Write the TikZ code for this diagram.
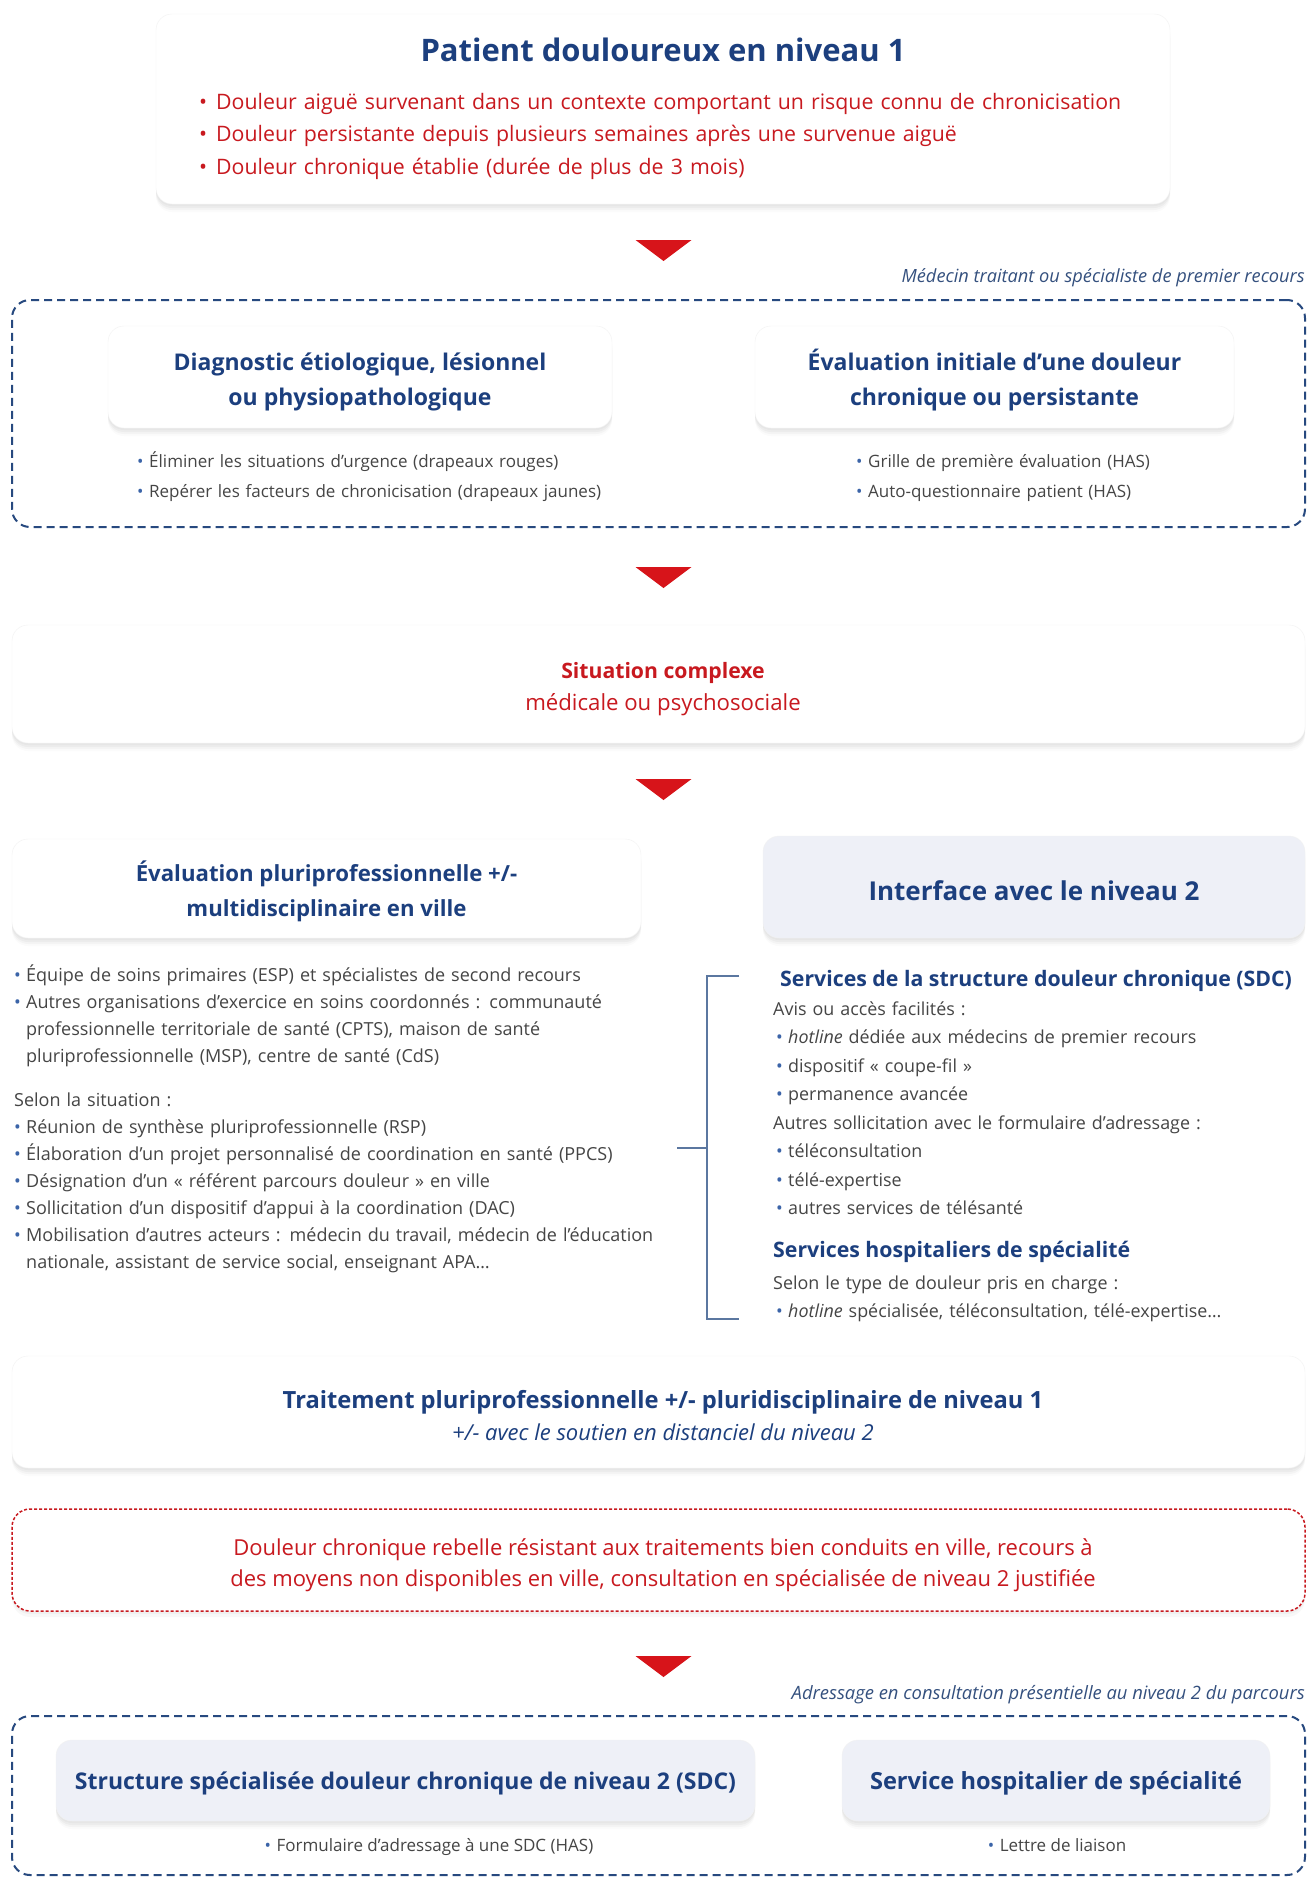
\documentclass[tikz,border=0pt]{standalone}
\usepackage{fontspec}
\setmainfont{Open Sans}
\usetikzlibrary{positioning, shadows, calc}

\definecolor{navy}{HTML}{1C3F7E}
\definecolor{alertred}{HTML}{C8191F}
\definecolor{arrowred}{HTML}{D7141A}
\definecolor{dashblue}{HTML}{27497F}
\definecolor{bodygray}{HTML}{454545}
\definecolor{dotblue}{HTML}{3B64A8}
\definecolor{paleblue}{HTML}{EEF0F7}
\definecolor{notegray}{HTML}{34507E}
\definecolor{bracketblue}{HTML}{5B77A0}

\newcommand{\bul}{\makebox[12pt][l]{\textcolor{dotblue}{\textbullet}}}
\newcommand{\rbul}{\makebox[17pt][l]{\textbullet}}
\newcommand{\ind}{\hspace*{12pt}}

\tikzset{
  card/.style={fill=white, draw=black!5, rounded corners=16pt, inner sep=0,
    drop shadow={shadow xshift=0pt, shadow yshift=-2pt, opacity=0.06},
    drop shadow={shadow xshift=0pt, shadow yshift=-4pt, opacity=0.06},
    drop shadow={shadow xshift=0pt, shadow yshift=-6pt, opacity=0.05},
    drop shadow={shadow xshift=0pt, shadow yshift=-8pt, opacity=0.03}},
  dashbox/.style={draw=dashblue, line width=2pt, dash pattern=on 8pt off 5pt, rounded corners=18pt, inner sep=0},
  reddash/.style={fill=white, draw=alertred, line width=1.5pt, dash pattern=on 3pt off 2pt, rounded corners=18pt, inner sep=0,
    drop shadow={shadow xshift=0pt, shadow yshift=-3pt, opacity=0.06},
    drop shadow={shadow xshift=0pt, shadow yshift=-6pt, opacity=0.05}},
  bigtitle/.style={font=\bfseries\fontsize{31}{36}\selectfont, text=navy, inner sep=0},
  cardtitle/.style={font=\bfseries\fontsize{23}{35}\selectfont, text=navy, align=center, inner sep=0},
  subhead/.style={font=\bfseries\fontsize{21.3}{25}\selectfont, text=navy, inner sep=0},
  redlist/.style={font=\fontsize{21.3}{32.5}\selectfont, text=alertred, align=left, inner sep=0},
  redtext/.style={font=\fontsize{22}{31}\selectfont, text=alertred, inner sep=0},
  smalllist/.style={font=\fontsize{17}{30}\selectfont, text=bodygray, align=left, inner sep=0},
  body/.style={font=\fontsize{18}{27}\selectfont, text=bodygray, align=left, inner sep=0},
  note/.style={font=\itshape\fontsize{18.2}{20}\selectfont, text=notegray, inner sep=0},
  bracket/.style={draw=bracketblue, line width=1.2pt},
  redtri/.pic={\fill[arrowred] (-28,0) -- (28,0) -- (0,21) -- cycle;}
}

\begin{document}
\begin{tikzpicture}[x=1pt, y=-1pt]
  \useasboundingbox (0,0) rectangle (1307,1879);
  \fill[white] (0,0) rectangle (1307,1879);

  % patient
  \node[card, minimum width=1014, minimum height=190] (patient) at (663,109) {};
  \node[bigtitle, anchor=base] (patienttitle) at (663,61) {Patient douloureux en niveau 1};
  \node[redlist, anchor=base west, text width=1000] (patientlist) at (199,109)
    {\rbul Douleur aiguë survenant dans un contexte comportant un risque connu de chronicisation\\
     \rbul Douleur persistante depuis plusieurs semaines après une survenue aiguë\\
     \rbul Douleur chronique établie (durée de plus de 3 mois)};

  \pic at (663.5,240) {redtri};

  % niveau premier recours
  \node[note, anchor=base east] (medecinnote) at (1305,282) {Médecin traitant ou spécialiste de premier recours};
  \node[dashbox, minimum width=1293, minimum height=227] (medecin) at (658.5,413.5) {};
  \node[card, minimum width=504, minimum height=102] (diag) at (360,377) {};
  \node[cardtitle, anchor=base] (diagtitle) at (360,405) {Diagnostic étiologique, lésionnel\\ou physiopathologique};
  \node[card, minimum width=479, minimum height=102] (evalinit) at (994.5,377) {};
  \node[cardtitle, anchor=base] (evalinittitle) at (994.5,405) {Évaluation initiale d’une douleur\\chronique ou persistante};
  \node[smalllist, anchor=base west, text width=480] (diaglist) at (137,467)
    {\bul Éliminer les situations d’urgence (drapeaux rouges)\\
     \bul Repérer les facteurs de chronicisation (drapeaux jaunes)};
  \node[smalllist, anchor=base west, text width=400] (evalinitlist) at (856,467)
    {\bul Grille de première évaluation (HAS)\\
     \bul Auto-questionnaire patient (HAS)};

  \pic at (663.5,567) {redtri};

  % situation complexe
  \node[card, minimum width=1293, minimum height=118] (complexe) at (658.5,684) {};
  \node[redtext, font=\bfseries\fontsize{21.2}{25}\selectfont, anchor=base] (complexetitle) at (663,678) {Situation complexe};
  \node[redtext, font=\fontsize{22.2}{25}\selectfont, anchor=base] (complexetext) at (663,710) {médicale ou psychosociale};

  \pic at (663.5,779) {redtri};

  % evaluation en ville
  \node[card, minimum width=629, minimum height=99] (pluri) at (326.5,888.5) {};
  \node[cardtitle, font=\bfseries\fontsize{22.2}{35}\selectfont, anchor=base] (pluritittle) at (326.5,916) {Évaluation pluriprofessionnelle +/-\\multidisciplinaire en ville};
  \node[card, fill=paleblue, minimum width=542, minimum height=102] (interface) at (1034,887) {};
  \node[cardtitle, font=\bfseries\fontsize{26}{30}\selectfont, anchor=base] (interfacetitle) at (1034,900) {Interface avec le niveau 2};

  \node[body, anchor=base west, text width=680] (plurilist) at (14,981)
    {\bul Équipe de soins primaires (ESP) et spécialistes de second recours\\
     \bul Autres organisations d’exercice en soins coordonnés : communauté\\
     \ind professionnelle territoriale de santé (CPTS), maison de santé\\
     \ind pluriprofessionnelle (MSP), centre de santé (CdS)\\[17pt]
     Selon la situation :\\
     \bul Réunion de synthèse pluriprofessionnelle (RSP)\\
     \bul Élaboration d’un projet personnalisé de coordination en santé (PPCS)\\
     \bul Désignation d’un « référent parcours douleur » en ville\\
     \bul Sollicitation d’un dispositif d’appui à la coordination (DAC)\\
     \bul Mobilisation d’autres acteurs : médecin du travail, médecin de l’éducation\\
     \ind nationale, assistant de service social, enseignant APA…};

  % bracket
  \coordinate (brtop) at (739,976);
  \coordinate (brbot) at (739,1319);
  \coordinate (brmid) at (677,1148);
  \draw[bracket] (brtop) -| (brbot -| 707,0) -- (brbot);
  \draw[bracket] (brmid) -- (brmid -| 707,0);

  % interface niveau 2
  \node[subhead, anchor=base west] (sdchead) at (780,986) {Services de la structure douleur chronique (SDC)};
  \node[body, font=\fontsize{17.9}{28.5}\selectfont, anchor=base west, text width=530] (sdclist) at (773,1015)
    {Avis ou accès facilités :\\
     \hspace*{3pt}\bul\textit{hotline} dédiée aux médecins de premier recours\\
     \hspace*{3pt}\bul dispositif « coupe-fil »\\
     \hspace*{3pt}\bul permanence avancée\\
     Autres sollicitation avec le formulaire d’adressage :\\
     \hspace*{3pt}\bul téléconsultation\\
     \hspace*{3pt}\bul télé-expertise\\
     \hspace*{3pt}\bul autres services de télésanté};
  \node[subhead, anchor=base west] (hosphead) at (773,1257) {Services hospitaliers de spécialité};
  \node[body, font=\fontsize{17.9}{28.5}\selectfont, anchor=base west, text width=530] (hosplist) at (773,1289)
    {Selon le type de douleur pris en charge :\\
     \hspace*{3pt}\bul\textit{hotline} spécialisée, téléconsultation, télé-expertise…};

  % traitement
  \node[card, minimum width=1293, minimum height=112] (traitement) at (658.5,1412) {};
  \node[cardtitle, font=\bfseries\fontsize{23.7}{28}\selectfont, anchor=base] (traitementtitle) at (663,1408) {Traitement pluriprofessionnelle +/- pluridisciplinaire de niveau 1};
  \node[note, text=navy, font=\itshape\fontsize{22}{24}\selectfont, anchor=base] (traitementnote) at (663,1440) {+/- avec le soutien en distanciel du niveau 2};

  % douleur rebelle
  \node[reddash, minimum width=1293, minimum height=102] (rebelle) at (658.5,1560) {};
  \node[redtext, align=center, anchor=base] (rebelletext) at (663,1586)
    {Douleur chronique rebelle résistant aux traitements bien conduits en ville, recours à\\
     des moyens non disponibles en ville, consultation en spécialisée de niveau 2 justifiée};

  \pic at (663.5,1656) {redtri};

  % niveau 2
  \node[note, font=\itshape\fontsize{18.4}{20}\selectfont, anchor=base east] (adressagenote) at (1305,1699) {Adressage en consultation présentielle au niveau 2 du parcours};
  \node[dashbox, minimum width=1293, minimum height=159] (adressage) at (658.5,1795.5) {};
  \node[card, fill=paleblue, minimum width=699, minimum height=81] (sdc) at (405.5,1780.5) {};
  \node[cardtitle, anchor=base] (sdctitle) at (405.5,1789) {Structure spécialisée douleur chronique de niveau 2 (SDC)};
  \node[card, fill=paleblue, minimum width=428, minimum height=81] (hosp) at (1056,1780.5) {};
  \node[cardtitle, font=\bfseries\fontsize{23.6}{28}\selectfont, anchor=base] (hosptitle) at (1056,1789) {Service hospitalier de spécialité};
  \node[smalllist, anchor=base] (sdcdoc) at (429,1851) {\bul Formulaire d’adressage à une SDC (HAS)};
  \node[smalllist, anchor=base] (hospdoc) at (1057,1851) {\bul Lettre de liaison};
\end{tikzpicture}
\end{document}
